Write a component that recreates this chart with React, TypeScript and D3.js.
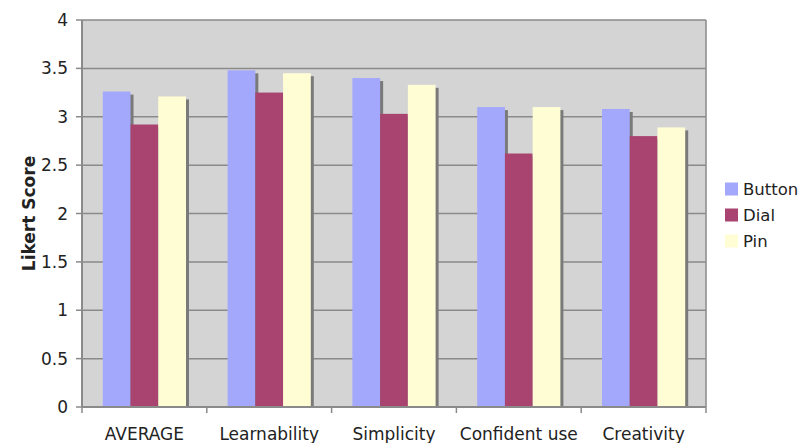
import React from "react";
import * as d3 from "d3";

const categories = ["AVERAGE", "Learnability", "Simplicity", "Confident use", "Creativity"];
const seriesNames = ["Button", "Dial", "Pin"];
const buttonValues = [3.26, 3.48, 3.4, 3.1, 3.08];
const dialValues = [2.92, 3.25, 3.03, 2.62, 2.8];
const pinValues = [3.21, 3.45, 3.33, 3.1, 2.89];
const yTicks = [0, 0.5, 1, 1.5, 2, 2.5, 3, 3.5, 4];
const yTickLabels = ["0", "0.5", "1", "1.5", "2", "2.5", "3", "3.5", "4"];
const colors = ["#a3a8fc", "#a8446f", "#fffdd3"];

export default function App() {
  const W = 800, H = 443;
  const left = 82, right = 706, top = 20, bottom = 407;
  const series = [buttonValues, dialValues, pinValues];
  const x0 = d3.scaleBand<string>().domain(categories).range([left, right]).paddingInner(0).paddingOuter(0);
  const bw = x0.bandwidth() / 4.5;
  const x1 = d3.scaleBand<string>().domain(seriesNames).range([0, bw * 3]).padding(0);
  const y = d3.scaleLinear().domain([0, 4]).range([bottom, top]);
  const font = "'DejaVu Sans', Verdana, sans-serif";
  return (
    <svg width={W} height={H} style={{ position: "absolute", left: 0, top: 0 }}>
      <rect x={0} y={0} width={W} height={H} fill="#fff" />
      <rect x={left} y={top} width={right - left} height={bottom - top} fill="#d4d4d4" />
      {yTicks.map((t, i) => (
        <g key={i}>
          {t > 0 && <line x1={left} x2={right} y1={y(t)} y2={y(t)} stroke="#8a8a8a" strokeWidth={1.5} />}
          <line x1={left - 6} x2={left} y1={y(t)} y2={y(t)} stroke="#8a8a8a" strokeWidth={1.5} />
          <text x={68} y={y(t)} dy="0.36em" textAnchor="end" fontFamily={font} fontSize={17} fill="#222">
            {yTickLabels[i]}
          </text>
        </g>
      ))}
      <line x1={right} x2={right} y1={top} y2={bottom} stroke="#8a8a8a" strokeWidth={1.5} />
      {seriesNames.map((s, si) => (
        <g key={s}>
          {categories.map((c, ci) => {
            const bx = (x0(c) as number) + (x0.bandwidth() - bw * 3) / 2 + (x1(s) as number);
            const by = y(series[si][ci]);
            return (
              <g key={c}>
                <rect x={bx + 3} y={by + 3} width={bw} height={bottom - by - 3} fill="#7a7a7a" />
                <rect x={bx} y={by} width={bw} height={bottom - by} fill={colors[si]} />
              </g>
            );
          })}
        </g>
      ))}
      <line x1={left} x2={left} y1={top} y2={bottom} stroke="#8a8a8a" strokeWidth={2} />
      <line x1={left} x2={right} y1={bottom} y2={bottom} stroke="#8a8a8a" strokeWidth={2} />
      {categories.map((c, i) => (
        <g key={c}>
          <line x1={(x0(c) as number)} x2={(x0(c) as number)} y1={bottom} y2={bottom + 6} stroke="#8a8a8a" strokeWidth={1.5} />
          {i === categories.length - 1 && (
            <line x1={right} x2={right} y1={bottom} y2={bottom + 6} stroke="#8a8a8a" strokeWidth={1.5} />
          )}
          <text x={(x0(c) as number) + x0.bandwidth() / 2} y={440} textAnchor="middle" fontFamily={font} fontSize={17} fill="#222">
            {c}
          </text>
        </g>
      ))}
      <text transform={`translate(35,${(top + bottom) / 2}) rotate(-90)`} textAnchor="middle" fontFamily={font} fontSize={17} fontWeight="bold" fill="#222">
        Likert Score
      </text>
      {seriesNames.map((s, i) => (
        <g key={s} transform={`translate(725,${189 + i * 26})`}>
          <rect x={0} y={-6.5} width={13} height={13} fill={colors[i]} />
          <text x={18} y={0} dy="0.36em" fontFamily={font} fontSize={16.5} fill="#222">
            {s}
          </text>
        </g>
      ))}
    </svg>
  );
}
